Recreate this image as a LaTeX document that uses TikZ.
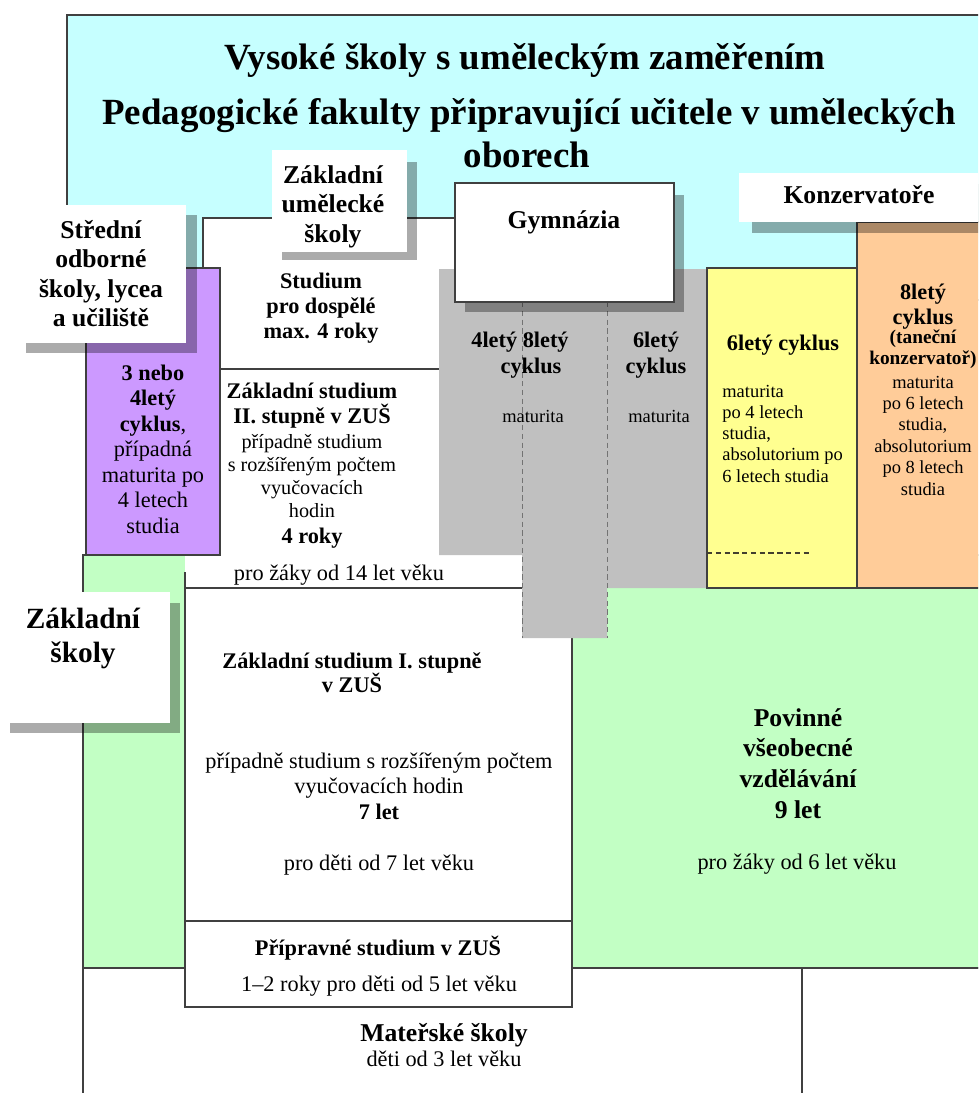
\documentclass[tikz,border=0pt]{standalone}
\usepackage{fontspec}
\setmainfont{Liberation Serif}
\usepackage{xcolor}
\definecolor{vsblue}{HTML}{C6FFFF}
\definecolor{zsgreen}{HTML}{C2FFC4}
\definecolor{soulila}{HTML}{CC99FF}
\definecolor{konzyellow}{HTML}{FFFF90}
\definecolor{konzorange}{HTML}{FFCC99}
\definecolor{gymgray}{HTML}{C0C0C0}

\begin{document}
\begin{tikzpicture}[x=0.02cm, y=-0.02cm, inner sep=0pt,
  boxline/.style={draw=black!75, line width=0.6pt},
  shadowbox/.style={fill=black, fill opacity=0.33},
  titletxt/.style={anchor=base, font=\bfseries\fontsize{21}{25}\selectfont},
  labtxt/.style={anchor=base, font=\bfseries\fontsize{14.6}{17}\selectfont},
  btxt/.style={anchor=base, font=\bfseries\fontsize{12.7}{15}\selectfont},
  txt/.style={anchor=base, font=\fontsize{12.7}{15}\selectfont},
  midtxt/.style={anchor=base, font=\fontsize{11.5}{14}\selectfont},
  smalltxt/.style={anchor=base, font=\fontsize{10.5}{12}\selectfont}]
\useasboundingbox (0,0) rectangle (978,1093);
\clip (0,0) rectangle (978,1093);
\draw[boxline, fill=vsblue] (67,15) rectangle (990,300);
\draw[boxline, fill=zsgreen] (83,555) rectangle (990,968);
\draw[boxline, fill=white] (83,968) rectangle (990,1110);
\draw[boxline] (802,968) -- (802,1110);
\draw[boxline, fill=white] (185,588) rectangle (572,921);
\draw[boxline, fill=white] (185,921) rectangle (572,1007);
\fill[white] (203,218) rectangle (522,588);
\fill[white] (185,555) rectangle (522,588);
\draw[boxline] (203,268) |- (455,218);
\draw[boxline] (220,369) -- (439,369);
\draw[boxline] (185,572) |- (522,588);
\draw[boxline, fill=soulila] (86,268) rectangle (220,555);
\fill[gymgray] (439,269) -- (707,269) -- (707,588) -- (607,588) -- (607,638)
  -- (522,638) -- (522,555) -- (439,555) -- cycle;
\foreach \x in {522,607}
  \draw[black!55, line width=0.5pt, densely dashed] (\x,302) -- (\x,638);
\draw[boxline, fill=konzyellow] (707,268) rectangle (857,588);
\draw[black!70!olive, line width=0.6pt, densely dashed] (707,553) -- (809,553);
\draw[boxline, fill=konzorange] (857,222) rectangle (990,588);
\fill[shadowbox] (465,195) rectangle (684,312);
\draw[boxline, fill=white] (455,183) rectangle (674,302);
\fill[shadowbox] (752,184) rectangle (1000,233);
\fill[white] (739,173) rectangle (990,222);
\fill[shadowbox] (282,162) rectangle (417,260);
\fill[white] (272,150) rectangle (407,252);
\fill[shadowbox] (26,215) rectangle (197,353);
\fill[white] (16,205) rectangle (186,343);
\fill[shadowbox] (10,603) rectangle (180,733);
\fill[white] (0,592) rectangle (170,723);

\node[titletxt] (vs) at (525,69) {Vysoké školy s uměleckým zaměřením};
\node[titletxt] (pf) at (529,124) {Pedagogické fakulty připravující učitele v uměleckých};
\node[titletxt] (pfb) at (527,167) {oborech};
\foreach \t [count=\i from 0] in {Základní, umělecké, školy}
  \node[labtxt] (zus\i) at (333,183+29.5*\i) {\t};
\node[labtxt] (gym) at (564,228) {Gymnázia};
\node[labtxt] (konz) at (859,203) {Konzervatoře};
\foreach \t [count=\i from 0] in {Střední, odborné, {školy, lycea}, a učiliště}
  \node[labtxt] (sos\i) at (101,238+29.6*\i) {\t};
\node[labtxt, font=\bfseries\fontsize{16.7}{19}\selectfont] (zs0) at (83,628) {Základní};
\node[labtxt, font=\bfseries\fontsize{16.7}{19}\selectfont] (zs1) at (83,662) {školy};
\foreach \t [count=\i from 0] in {\textbf{3 nebo}, \textbf{4letý}, {\textbf{cyklus},}, případná, maturita po, 4 letech, studia}
  \node[txt] (sou\i) at (153,380+25.5*\i) {\t};
\foreach \t [count=\i from 0] in {Studium, pro dospělé, max. 4 roky}
  \node[btxt] (dosp\i) at (321,288+25*\i) {\t};
\node[btxt] (zus2a) at (312,398) {Základní studium};
\node[btxt] (zus2b) at (312,423) {II. stupně v ZUŠ};
\foreach \t [count=\i from 0] in {případně studium, s rozšířeným počtem, vyučovacích, hodin}
  \node[midtxt] (zus2t\i) at (312,448+23.3*\i) {\t};
\node[btxt] (zus2r) at (312,543) {4 roky};
\node[txt] (zus2v) at (339,580) {pro žáky od 14 let věku};
\node[btxt] (gym4) at (520,347) {4letý 8letý};
\node[btxt] (gym4c) at (531,373) {cyklus};
\node[smalltxt] (gym4m) at (533,422) {maturita};
\node[btxt] (gym6) at (656,347) {6letý};
\node[btxt] (gym6c) at (656,373) {cyklus};
\node[smalltxt] (gym6m) at (659,422) {maturita};
\node[btxt] (konz6) at (783,350) {6letý cyklus};
\foreach \t [count=\i from 0] in {maturita, po 4 letech, {studia,}, absolutorium po, 6 letech studia}
  \node[smalltxt, anchor=base west] (konz6t\i) at (722,397+21.3*\i) {\t};
\node[btxt] (konz8) at (923,299) {8letý};
\node[btxt] (konz8c) at (923,324) {cyklus};
\node[btxt, font=\bfseries\fontsize{11}{13}\selectfont] (konz8a) at (923,343) {(taneční};
\node[btxt, font=\bfseries\fontsize{11}{13}\selectfont] (konz8b) at (923,364) {konzervatoř)};
\foreach \t [count=\i from 0] in {maturita, po 6 letech, {studia,}, absolutorium, po 8 letech, studia}
  \node[smalltxt] (konz8t\i) at (923,388+21.4*\i) {\t};
\node[btxt] (zus1a) at (352,668) {Základní studium I. stupně};
\node[btxt] (zus1b) at (352,692) {v ZUŠ};
\node[txt] (zus1c) at (379,768) {případně studium s rozšířeným počtem};
\node[txt] (zus1d) at (379,793) {vyučovacích hodin};
\node[btxt] (zus1e) at (379,819) {7 let};
\node[txt] (zus1f) at (379,870) {pro děti od 7 let věku};
\node[btxt] (prip) at (378,955) {Přípravné studium v ZUŠ};
\node[txt] (pripv) at (379,991) {1–2 roky pro děti od 5 let věku};
\node[labtxt] (ms) at (444,1041) {Mateřské školy};
\node[txt] (msv) at (444,1066) {děti od 3 let věku};
\foreach \t [count=\i from 0] in {Povinné, všeobecné, vzdělávání, 9 let}
  \node[labtxt] (pov\i) at (798,726+30.7*\i) {\t};
\node[txt] (povv) at (797,869) {pro žáky od 6 let věku};
\end{tikzpicture}
\end{document}
